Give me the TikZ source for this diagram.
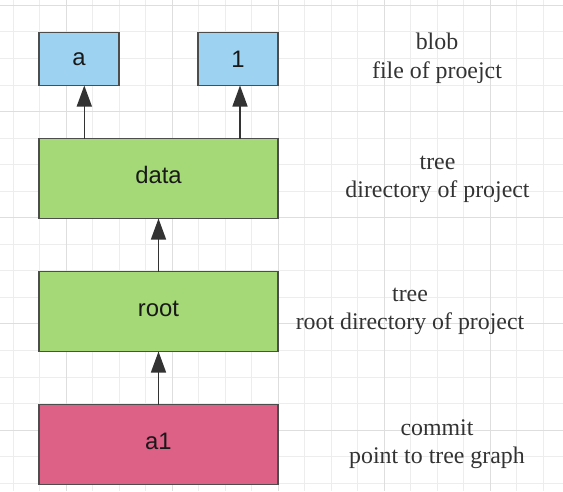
\documentclass[tikz,border=0pt]{standalone}
\usepackage{fontspec}
\setmainfont{Liberation Serif}
\newfontfamily\boxfont{Liberation Sans}
\usetikzlibrary{arrows.meta,positioning}
\definecolor{blobblue}{HTML}{9DD2F1}
\definecolor{treegreen}{HTML}{A5D977}
\definecolor{commitpink}{HTML}{DD6086}
\definecolor{edgegray}{HTML}{4D4D4D}
\definecolor{inkgray}{HTML}{333333}
\tikzstyle{block} = [draw=edgegray, line width=1.3pt, rectangle, inner sep=0pt, outer sep=0pt,
    font=\boxfont\fontsize{23.85}{28.6}\selectfont, text=black!90]
\tikzstyle{blob} = [block, fill=blobblue, minimum width=80pt, minimum height=53pt]
\tikzstyle{tree} = [block, fill=treegreen, minimum width=239pt, minimum height=80pt,
    text height=16pt, text depth=7pt]
\tikzstyle{commit} = [tree, fill=commitpink]
\tikzstyle{note} = [align=center, inner sep=0pt, text=inkgray,
    font=\fontsize{23.85}{28.6}\selectfont]

\begin{document}
\begin{tikzpicture}[auto, x=1pt, y=1pt, node distance=53pt,
    >={Triangle[length=21pt,width=15pt]}]
  \useasboundingbox (0,0) rectangle (563,-491);
  % grid
  \foreach \i in {0,...,20}
    \draw [black!7, line width=0.9pt] (13+26.5*\i,0) -- (13+26.5*\i,-491);
  \foreach \i in {0,...,18}
    \draw [black!7, line width=0.9pt] (0,-5.3-26.55*\i) -- (563,-5.3-26.55*\i);
  \foreach \i in {2,6,10,14,18}
    \draw [black!13, line width=0.9pt] (13+26.5*\i,0) -- (13+26.5*\i,-491);
  \foreach \i in {0,4,8,12,16}
    \draw [black!13, line width=0.9pt] (0,-5.3-26.55*\i) -- (563,-5.3-26.55*\i);

  \node [commit] (a1) at (158.5,-444.5) {a1};
  \node [tree, above=of a1] (root) {root};
  \node [tree, above=of root] (data) {data};
  \node [blob, above right=53pt and 0pt of data.north west] (a) {a};
  \node [blob, above left=53pt and 0pt of data.north east] (one) {1};

  \node [note, right=159pt of a1.east, anchor=center, yshift=0.5pt] (lcommit) {commit\\point to tree graph};
  \node [note, right=132pt of root.east, anchor=center] (lroot) {tree\\root directory of project};
  \node [note, right=159.5pt of data.east, anchor=center, yshift=-1pt] (ldata) {tree\\directory of project};
  \node [note, right=159pt of data.east |- one.east, anchor=center, yshift=0.5pt] (lblob) {blob\\file of proejct};

  \draw [->, inkgray, line width=1.5pt] (a1) -- (root);
  \draw [->, inkgray, line width=1.5pt] (root) -- (data);
  \draw [->, inkgray, line width=1.5pt] ([xshift=5.3pt]a.south |- data.north) -- ([xshift=5.3pt]a.south);
  \draw [->, inkgray, line width=1.5pt] ([xshift=2pt]one.south |- data.north) -- ([xshift=2pt]one.south);
\end{tikzpicture}
\end{document}
